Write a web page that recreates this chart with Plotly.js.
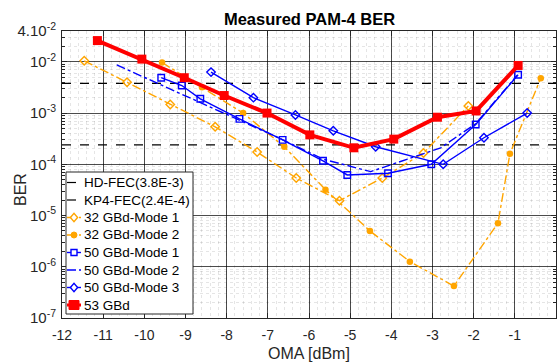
<!DOCTYPE html>
<html>
<head>
<meta charset="utf-8">
<script src="https://cdn.plot.ly/plotly-3.0.1.min.js"></script>
<style>html,body{margin:0;padding:0;background:#fff;}#chart{width:557px;height:364px;}</style>
</head>
<body>
<div id="chart"></div>
<script>
// FEC thresholds
const fecX = [-12, 0];
const hdFec = [3.8e-3, 3.8e-3];
const kp4Fec = [2.4e-4, 2.4e-4];

// 32 GBd-Mode 1
const g32m1X = [-11.46, -10.42, -9.37, -8.28, -7.26, -6.31, -5.26, -4.22, -3.22, -2.13];
const g32m1Y = [1.05e-2, 4.0e-3, 1.47e-3, 5.4e-4, 1.74e-4, 5.4e-5, 1.95e-5, 5.4e-5, 1.66e-4, 1.38e-3];

// 32 GBd-Mode 2
const g32m2X = [-9.57, -8.6, -7.6, -6.6, -5.6, -4.52, -3.55, -2.48, -1.41, -1.12, -0.37];
const g32m2Y = [9.7e-3, 3.2e-3, 1.0e-3, 2.2e-4, 3.2e-5, 5.0e-6, 1.26e-6, 4.2e-7, 7.1e-6, 1.6e-4, 4.8e-3];

// 50 GBd-Mode 1
const g50m1X = [-9.59, -9.09, -8.64, -7.69, -6.64, -5.66, -5.07, -4.08, -3.03, -1.95, -0.92];
const g50m1Y = [4.9e-3, 3.45e-3, 1.9e-3, 7.7e-4, 3.0e-4, 1.17e-4, 6.2e-5, 6.7e-5, 1.0e-4, 6.0e-4, 5.6e-3];

// 50 GBd-Mode 2
const g50m2X = [-10.67, -6.67, -5.66, -4.5, -2.8, -1.95, -0.94];
const g50m2Y = [8.7e-3, 3.1e-4, 1.26e-4, 7.2e-5, 2.1e-4, 6.2e-4, 5.5e-3];

// 50 GBd-Mode 3
const g50m3X = [-8.38, -7.35, -6.33, -5.41, -4.38, -2.74, -1.75, -0.7];
const g50m3Y = [6.3e-3, 2.0e-3, 9.2e-4, 4.5e-4, 2.2e-4, 1.0e-4, 3.3e-4, 1.0e-3];

// 53 GBd
const g53X = [-11.14, -10.06, -9.03, -8.06, -7.02, -5.98, -4.91, -3.94, -2.88, -1.94, -0.92];
const g53Y = [2.6e-2, 1.13e-2, 4.9e-3, 2.2e-3, 1.0e-3, 3.75e-4, 2.1e-4, 3.1e-4, 8.3e-4, 1.1e-3, 8.5e-3];

// tick labels
const xTicks = [-12, -11, -10, -9, -8, -7, -6, -5, -4, -3, -2, -1, 0];
const yTickVals = [1e-7, 1e-6, 1e-5, 1e-4, 1e-3, 1e-2, 4e-2];
const yTickText = ['10<sup>-7</sup>', '10<sup>-6</sup>', '10<sup>-5</sup>', '10<sup>-4</sup>', '10<sup>-3</sup>', '10<sup>-2</sup>', '4.10<sup>-2</sup>'];
const legendNames = ['HD-FEC(3.8E-3)', 'KP4-FEC(2.4E-4)', '32 GBd-Mode 1', '32 GBd-Mode 2', '50 GBd-Mode 1', '50 GBd-Mode 2', '50 GBd-Mode 3', '53 GBd'];

const ORANGE = '#FFA500';
const BLUE = '#0000FF';
const RED = '#FF0000';

const styles = [
  {line: {color: '#000', width: 1.2, dash: 'dash'}},
  {line: {color: '#000', width: 1.2, dash: 'dash'}},
  {line: {color: ORANGE, width: 1.4, dash: 'dashdot'}, marker: {symbol: 'diamond-open', size: 6.5, color: ORANGE, line: {width: 1.4}}},
  {line: {color: ORANGE, width: 1.4, dash: 'dashdot'}, marker: {symbol: 'circle', size: 6.5, color: ORANGE}},
  {line: {color: BLUE, width: 1.4}, marker: {symbol: 'square-open', size: 6.5, color: BLUE, line: {width: 1.4}}},
  {line: {color: BLUE, width: 1.4, dash: 'dashdot'}},
  {line: {color: BLUE, width: 1.4}, marker: {symbol: 'diamond-open', size: 6.5, color: BLUE, line: {width: 1.4}}},
  {line: {color: RED, width: 4}, marker: {symbol: 'square', size: 9, color: RED}}
];
const xs = [fecX, fecX, g32m1X, g32m2X, g50m1X, g50m2X, g50m3X, g53X];
const ys = [hdFec, kp4Fec, g32m1Y, g32m2Y, g50m1Y, g50m2Y, g50m3Y, g53Y];

const traces = xs.map((x, i) => Object.assign({
  x: x, y: ys[i], name: legendNames[i], showlegend: false,
  mode: styles[i].marker ? 'lines+markers' : 'lines'
}, styles[i]));

// custom legend (pixel geometry -> paper coords)
const L = 62, T = 31, W = 494, H = 287;
const px = v => (v - L) / W;
const py = v => (T + H - v) / H;
const shapes = [];
const annotations = [];
shapes.push({type: 'rect', xref: 'paper', yref: 'paper', x0: px(66), x1: px(193), y0: py(172), y1: py(314),
  fillcolor: '#fff', line: {color: '#262626', width: 1}, layer: 'above'});
legendNames.forEach((nm, i) => {
  const yc = 182.5 + 17.5 * i;
  const st = styles[i];
  shapes.push({type: 'line', xref: 'paper', yref: 'paper', x0: px(67), x1: px(81), y0: py(yc), y1: py(yc),
    line: {color: st.line.color, width: Math.min(st.line.width, 3), dash: st.line.dash || 'solid'}, layer: 'above'});
  if (st.marker) {
    const c = st.marker.color, cx = 74, s = st.marker.symbol;
    if (s === 'diamond-open') {
      shapes.push({type: 'path', xref: 'paper', yref: 'paper', layer: 'above',
        path: `M${px(cx - 3.6)},${py(yc)} L${px(cx)},${py(yc - 4.2)} L${px(cx + 3.6)},${py(yc)} L${px(cx)},${py(yc + 4.2)} Z`,
        fillcolor: '#fff', line: {color: c, width: 1.4}});
    } else if (s === 'circle') {
      shapes.push({type: 'circle', xref: 'paper', yref: 'paper', layer: 'above',
        x0: px(cx - 3), x1: px(cx + 3), y0: py(yc - 3), y1: py(yc + 3), fillcolor: c, line: {color: c, width: 1}});
    } else if (s === 'square-open') {
      shapes.push({type: 'rect', xref: 'paper', yref: 'paper', layer: 'above',
        x0: px(cx - 3), x1: px(cx + 3), y0: py(yc - 3), y1: py(yc + 3), fillcolor: '#fff', line: {color: c, width: 1.4}});
    } else if (s === 'square') {
      shapes.push({type: 'rect', xref: 'paper', yref: 'paper', layer: 'above',
        x0: px(cx - 5), x1: px(cx + 5), y0: py(yc - 4.5), y1: py(yc + 4.5), fillcolor: c, line: {color: c, width: 1}});
    }
  }
  annotations.push({xref: 'paper', yref: 'paper', x: px(82), y: py(yc), xanchor: 'left', yanchor: 'middle',
    text: nm, showarrow: false, font: {size: 13.5, color: '#000'}});
});
// y axis label
annotations.push({xref: 'paper', yref: 'paper', x: px(20), y: py(190), xanchor: 'center', yanchor: 'middle',
  text: 'BER', textangle: -90, showarrow: false, font: {size: 16, color: '#262626'}});

const minorY = [];
for (let e = -7; e < -1; e++) { for (let m = 2; m <= 9; m++) { minorY.push(m * Math.pow(10, e)); } }

const layout = {
  width: 557, height: 364,
  margin: {l: L, r: 1, t: T, b: 46, pad: 0},
  paper_bgcolor: '#fff', plot_bgcolor: '#fff',
  font: {family: 'Liberation Sans, Arial, sans-serif', color: '#262626', size: 14},
  title: {text: '<b>Measured PAM-4 BER</b>', font: {size: 16.5, color: '#000'}, x: 309.5 / 557, xanchor: 'center', y: 1 - 19 / 364, yanchor: 'middle'},
  showlegend: false,
  shapes: shapes,
  annotations: annotations,
  xaxis: {
    range: [-12, 0], tickvals: xTicks, ticktext: xTicks.map(String),
    showgrid: true, gridcolor: 'rgba(0,0,0,0.7)', gridwidth: 1,
    zeroline: false, showline: true, mirror: 'ticks', linecolor: '#262626', linewidth: 1,
    ticks: 'inside', ticklen: 5, tickcolor: '#262626', ticklabelstandoff: 4,
    minor: {dtick: 0.2, showgrid: true, gridcolor: 'rgba(0,0,0,0.1)', griddash: 'dot', ticks: ''},
    title: {text: 'OMA [dBm]', font: {size: 16, color: '#262626'}, standoff: 6},
    tickfont: {size: 14}
  },
  yaxis: {
    type: 'log', range: [-7, Math.log10(4e-2)],
    tickvals: yTickVals, ticktext: yTickText,
    showgrid: true, gridcolor: 'rgba(0,0,0,0.7)', gridwidth: 1,
    zeroline: false, showline: true, mirror: 'ticks', linecolor: '#262626', linewidth: 1,
    ticks: 'inside', ticklen: 5, tickcolor: '#262626', ticklabelstandoff: 2,
    minor: {tickvals: minorY, showgrid: true, gridcolor: 'rgba(0,0,0,0.1)', griddash: 'dot', ticks: 'inside', ticklen: 3, tickcolor: '#262626'},
    tickfont: {size: 15}
  }
};

Plotly.newPlot('chart', traces, layout, {displayModeBar: false, staticPlot: true});
</script>
</body>
</html>
